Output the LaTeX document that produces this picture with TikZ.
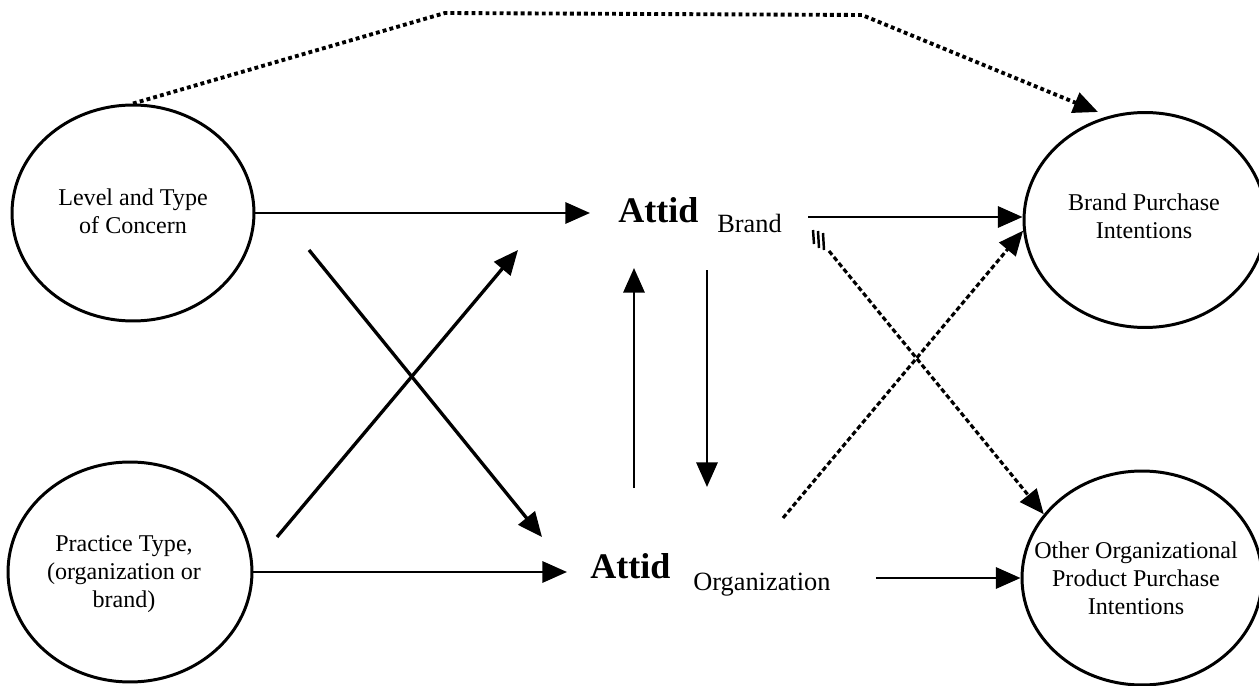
\documentclass[tikz,border=0pt]{standalone}
\usepackage{fontspec}
\setmainfont{Liberation Serif}
\usetikzlibrary{shapes.geometric,arrows.meta,calc}

\tikzset{
  construct/.style={draw, ellipse, line width=1.7pt, inner sep=0pt},
  label13/.style={align=center, inner sep=0pt, font=\fontsize{13.7}{15.9}\selectfont},
  attid/.style={anchor=base west, inner sep=0pt, font=\fontsize{20.5}{24}\selectfont\bfseries},
  attidsub/.style={anchor=base west, inner sep=0pt, font=\fontsize{15}{18}\selectfont},
  tip/.style={-{Triangle[length=14pt,width=12pt]}},
  path1/.style={tip, line width=1.6pt},
  path2/.style={tip, line width=1.9pt},
  hatched/.style={tip, line width=1.8pt, dash pattern=on 2.8pt off 1.6pt},
  dotline/.style={tip, line width=2.2pt, dash pattern=on 2.2pt off 1.8pt}
}

\begin{document}
\begin{tikzpicture}[x=0.02cm, y=-0.02cm]
\useasboundingbox (0,0) rectangle (1259,686);
\clip (0,0) rectangle (1259,686);

% constructs
\node[construct, minimum width=4.84cm, minimum height=4.32cm] (lt) at (133,213) {};
\node[construct, minimum width=4.88cm, minimum height=4.40cm] (lb) at (130,572) {};
\node[construct, minimum width=4.84cm, minimum height=4.30cm] (rt) at (1145,220) {};
\node[construct, minimum width=4.80cm, minimum height=4.28cm] (rb) at (1142,578) {};

\node[label13] (ltt) at (133,211) {Level and Type\\of Concern};
\node[label13] (lbt) at (124,574) {Practice Type,\\(organization or\\brand)};
\node[label13] (rtt) at (1144,216) {Brand Purchase\\Intentions};
\node[label13] (rbt) at (1136,578) {Other Organizational\\Product Purchase\\Intentions};

% attitudes
\node[attid] (ab) at (618,223) {Attid};
\node[attidsub] (abs) at (717,233) {Brand};
\node[attid] (ao) at (590,578) {Attid};
\node[attidsub] (aos) at (693,590) {Organization};

% helper points
\coordinate (crossA) at (309,250);
\coordinate (crossB) at (277,537);
\coordinate (bstart) at ($(abs.base east)+(26,-16)$);
\coordinate (ostart) at ($(aos.base east)+(45,-12)$);
\coordinate (hA) at (829,251);
\coordinate (hB) at (783,518);
\coordinate (k1) at (445,13);
\coordinate (k2) at (862,15);
\coordinate (dotend) at (1098,112);

% antecedents to attitudes
\draw[path1] (lt.east) -- ($(ab.base west)+(-28,-10)$);
\draw[path1] (lb.east) -- ($(ao.base west)+(-23,-6)$);
\draw[path2] (crossA) -- ($(ao.base west)+(-48,-41)$);
\draw[path2] (crossB) -- ($(ab.base west)+(-100,27)$);

% between the attitudes
\draw[path1] ($(ao.base west)+(44,-90)$) -- ($(ab.base west)+(16,45)$);
\draw[path1] ($(ab.base west)+(89,47)$) -- ($(ao.base west)+(117,-91)$);

% attitudes to intentions
\draw[path1] (bstart) -- (bstart -| rt.west);
\draw[path1] (ostart) -- (ostart -| rb.west);
\draw[hatched] (hA) -- (rb.147.7);
\draw[hatched] (hB) -- (rt.185.7);
\draw[line width=1.4pt] (813,230) -- (814,244) (818,231) -- (819,248) (823,233) -- (824,250);

% direct path from concern to brand intentions
\draw[dotline] (lt.north) -- (k1) -- (k2) -- (dotend);
\end{tikzpicture}
\end{document}
